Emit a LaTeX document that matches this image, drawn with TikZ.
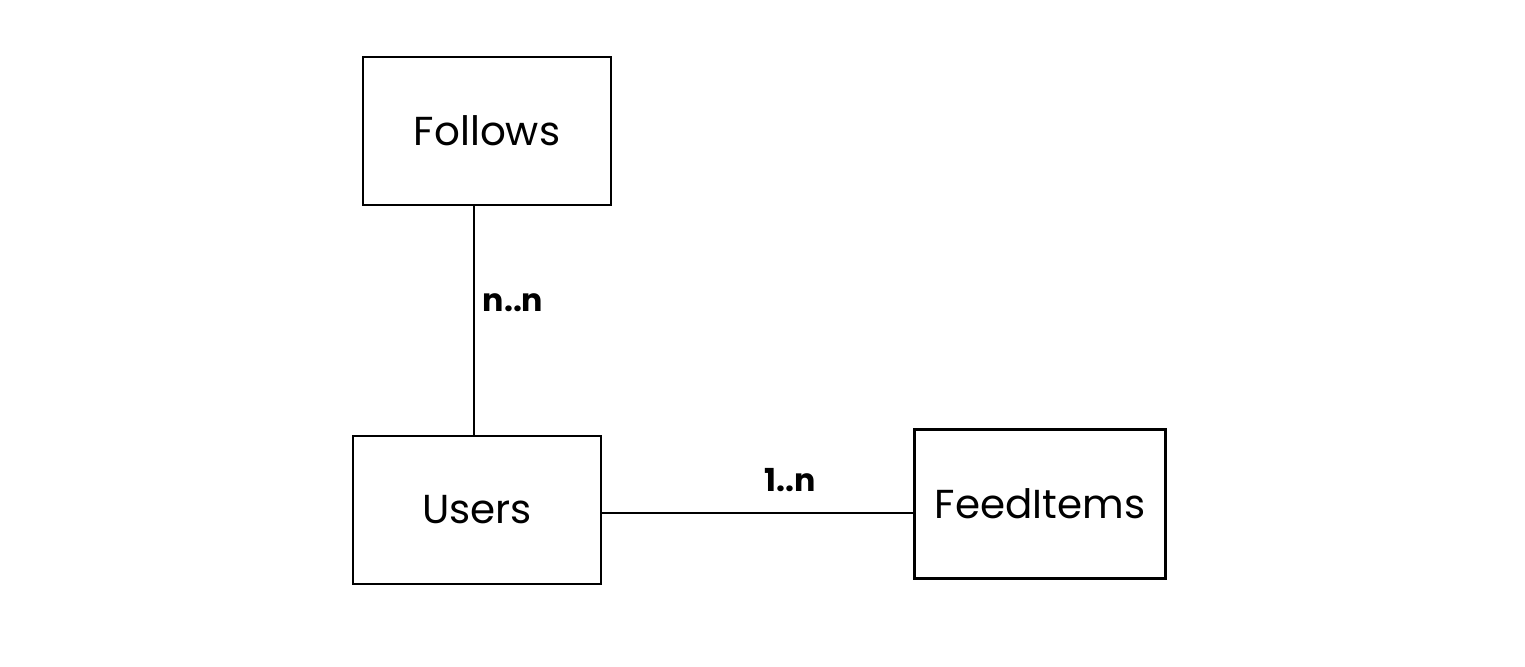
\documentclass[tikz,border=0pt]{standalone}
\usepackage{fontspec}
\setmainfont{Poppins}
\begin{document}
\begin{tikzpicture}[x=0.01cm,y=-0.01cm,
  entity/.style={draw=black,line width=0.8pt,minimum width=2.48cm,minimum height=1.48cm,inner sep=0pt,font=\fontsize{11.5}{13}\selectfont},
  link/.style={draw=black,line width=0.7pt},
  card/.style={font=\fontsize{9}{11}\selectfont\bfseries,inner sep=1pt}]
\useasboundingbox[fill=white] (0,0) rectangle (1525,666);
\node[entity] (follows) at (487,131) {Follows};
\node[entity] (users) at (477,510) {Users};
\node[entity,minimum width=2.51cm,minimum height=1.49cm] (feed) at (1040,504) {FeedItems};
\draw[link] (follows.south -| 474,0) -- (users.north -| 474,0);
\draw[link] (users.east |- 0,513) -- (feed.west |- 0,513);
\node[card] (nn) at (513,303) {n..n};
\node[card] (on) at (790,480) {1..n};
\end{tikzpicture}
\end{document}
